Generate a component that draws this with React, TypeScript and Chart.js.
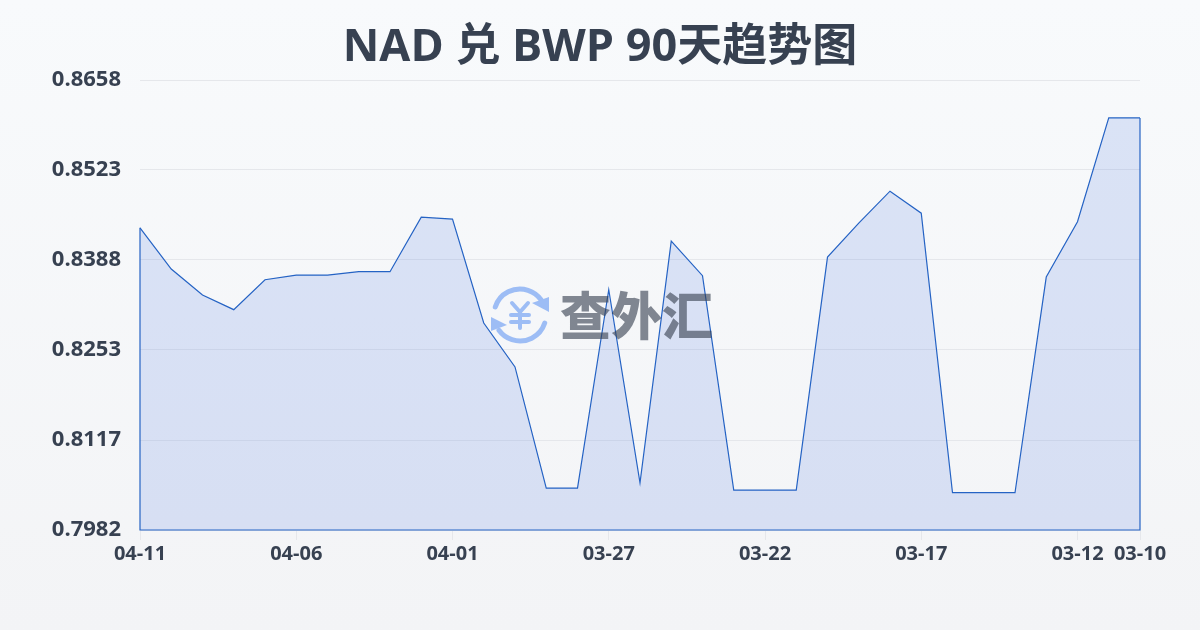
import React, { useEffect, useRef } from "react";
import { Chart, registerables } from "chart.js";

Chart.register(...registerables);

const titleText = "NAD 兑 BWP 90天趋势图";
const watermarkText = "查外汇";
const dates = [
  "04-11","04-10","04-09","04-08","04-07","04-06","04-05","04-04","04-03","04-02","04-01",
  "03-31","03-30","03-29","03-28","03-27","03-26","03-25","03-24","03-23","03-22",
  "03-21","03-20","03-19","03-18","03-17","03-16","03-15","03-14","03-13","03-12","03-11","03-10",
];
const rates = [
  0.8436,0.8374,0.8335,0.8313,0.8358,0.8365,0.8365,0.8370,0.8370,0.8452,0.8449,
  0.8293,0.8227,0.8045,0.8045,0.8343,0.8053,0.8416,0.8364,0.8042,0.8042,
  0.8042,0.8392,0.8443,0.8491,0.8458,0.8038,0.8038,0.8038,0.8362,0.8445,0.8601,0.8601,
];
const xTickLabels = ["04-11","04-06","04-01","03-27","03-22","03-17","03-12","03-10"];
const yTickValues = [0.7982,0.81172,0.82528,0.83880,0.85230,0.8658];
const yTickLabels = ["0.7982","0.8117","0.8253","0.8388","0.8523","0.8658"];

const FONT = '"Open Sans", "Noto Sans CJK SC", sans-serif';
const TEXT = "#374151";
const LINE = "#2563c4";

const decor = {
  id: "decor",
  afterDatasetsDraw(chart: any) {
    const { ctx, chartArea: a, scales } = chart;
    const pts = chart.getDatasetMeta(0).data;
    const base = scales.y.getPixelForValue(scales.y.min);
    ctx.save();
    ctx.strokeStyle = LINE;
    ctx.lineWidth = 1.2;
    ctx.beginPath();
    ctx.moveTo(pts[0].x, pts[0].y);
    ctx.lineTo(pts[0].x, base);
    ctx.lineTo(pts[pts.length - 1].x, base);
    ctx.lineTo(pts[pts.length - 1].x, pts[pts.length - 1].y);
    ctx.stroke();
    ctx.restore();

    const cx = a.left + 380;
    const cy = 315;
    const r = 26;
    ctx.save();
    ctx.strokeStyle = "#9dbdf5";
    ctx.fillStyle = "#9dbdf5";
    ctx.lineWidth = 5;
    ctx.lineCap = "round";
    ctx.beginPath();
    ctx.arc(cx, cy, r, Math.PI * 1.1, Math.PI * 1.8);
    ctx.stroke();
    ctx.beginPath();
    ctx.arc(cx, cy, r, Math.PI * 0.1, Math.PI * 0.8);
    ctx.stroke();
    ctx.beginPath();
    ctx.moveTo(cx + 29, cy - 18);
    ctx.lineTo(cx + 29, cy - 3);
    ctx.lineTo(cx + 12, cy - 12);
    ctx.closePath();
    ctx.fill();
    ctx.beginPath();
    ctx.moveTo(cx - 29, cy + 2);
    ctx.lineTo(cx - 29, cy + 16);
    ctx.lineTo(cx - 13, cy + 10);
    ctx.closePath();
    ctx.fill();
    ctx.lineWidth = 4;
    ctx.beginPath();
    ctx.moveTo(cx - 8, cy - 12);
    ctx.lineTo(cx, cy - 3);
    ctx.lineTo(cx + 8, cy - 12);
    ctx.moveTo(cx - 9, cy);
    ctx.lineTo(cx + 9, cy);
    ctx.moveTo(cx - 9, cy + 7);
    ctx.lineTo(cx + 9, cy + 7);
    ctx.moveTo(cx, cy - 3);
    ctx.lineTo(cx, cy + 13);
    ctx.stroke();
    ctx.font = `900 51px "Noto Sans CJK SC", sans-serif`;
    ctx.fillStyle = "rgba(55,65,81,0.62)";
    ctx.textAlign = "left";
    ctx.textBaseline = "middle";
    ctx.fillText(watermarkText, 560, 316);
    ctx.restore();
  },
};

export default function App() {
  const ref = useRef<HTMLCanvasElement>(null);
  useEffect(() => {
    const chart = new Chart(ref.current!, {
      type: "line",
      data: {
        labels: dates,
        datasets: [
          {
            data: rates,
            borderColor: LINE,
            borderWidth: 1.2,
            backgroundColor: "rgba(70,115,225,0.16)",
            fill: "start",
            pointRadius: 0,
            tension: 0,
          },
        ],
      },
      options: {
        animation: false,
        responsive: false,
        plugins: {
          legend: { display: false },
          tooltip: { enabled: false },
          title: {
            display: true,
            text: titleText,
            color: TEXT,
            font: { family: FONT, size: 45, weight: "bold", lineHeight: 1.2 },
            padding: { top: 21, bottom: 5 },
          },
        },
        scales: {
          x: {
            type: "category",
            offset: false,
            afterFit(s: any) { s.height = 100; },
            afterBuildTicks(s: any) {
              s.ticks = dates
                .map((d, i) => ({ value: i, label: d }))
                .filter((t) => xTickLabels.includes(t.label));
            },
            border: { display: false },
            grid: { drawOnChartArea: false, drawTicks: true, tickLength: 10, tickColor: "#e5e7eb", lineWidth: 1 },
            ticks: {
              autoSkip: false,
              maxRotation: 0,
              minRotation: 0,
              padding: 2,
              color: TEXT,
              font: { family: FONT, size: 20, weight: "bold" },
              callback(v: any) { return dates[v]; },
            },
          },
          y: {
            min: 0.7982,
            max: 0.8658,
            afterFit(s: any) { s.width = 140; },
            afterBuildTicks(s: any) {
              s.ticks = yTickValues.map((v) => ({ value: v }));
            },
            border: { display: false },
            grid: { color: "#e5e7eb", lineWidth: 1, drawTicks: false },
            ticks: {
              padding: 19,
              color: TEXT,
              font: { family: FONT, size: 22, weight: "bold" },
              callback(v: any) {
                const i = yTickValues.indexOf(v);
                return i >= 0 ? yTickLabels[i] : "";
              },
            },
          },
          rightGap: {
            axis: "y",
            position: "right",
            afterFit(s: any) { s.width = 60; },
            border: { display: false },
            grid: { display: false, drawTicks: false },
            ticks: { display: false },
          },
        },
      },
      plugins: [decor],
    } as any);
    return () => chart.destroy();
  }, []);
  return (
    <div
      style={{
        position: "fixed",
        left: 0,
        top: 0,
        width: 1200,
        height: 630,
        background: "linear-gradient(180deg,#f8fafc 0%,#f3f4f6 100%)",
      }}
    >
      <canvas ref={ref} width={1200} height={630} style={{ display: "block", width: 1200, height: 630 }} />
    </div>
  );
}
